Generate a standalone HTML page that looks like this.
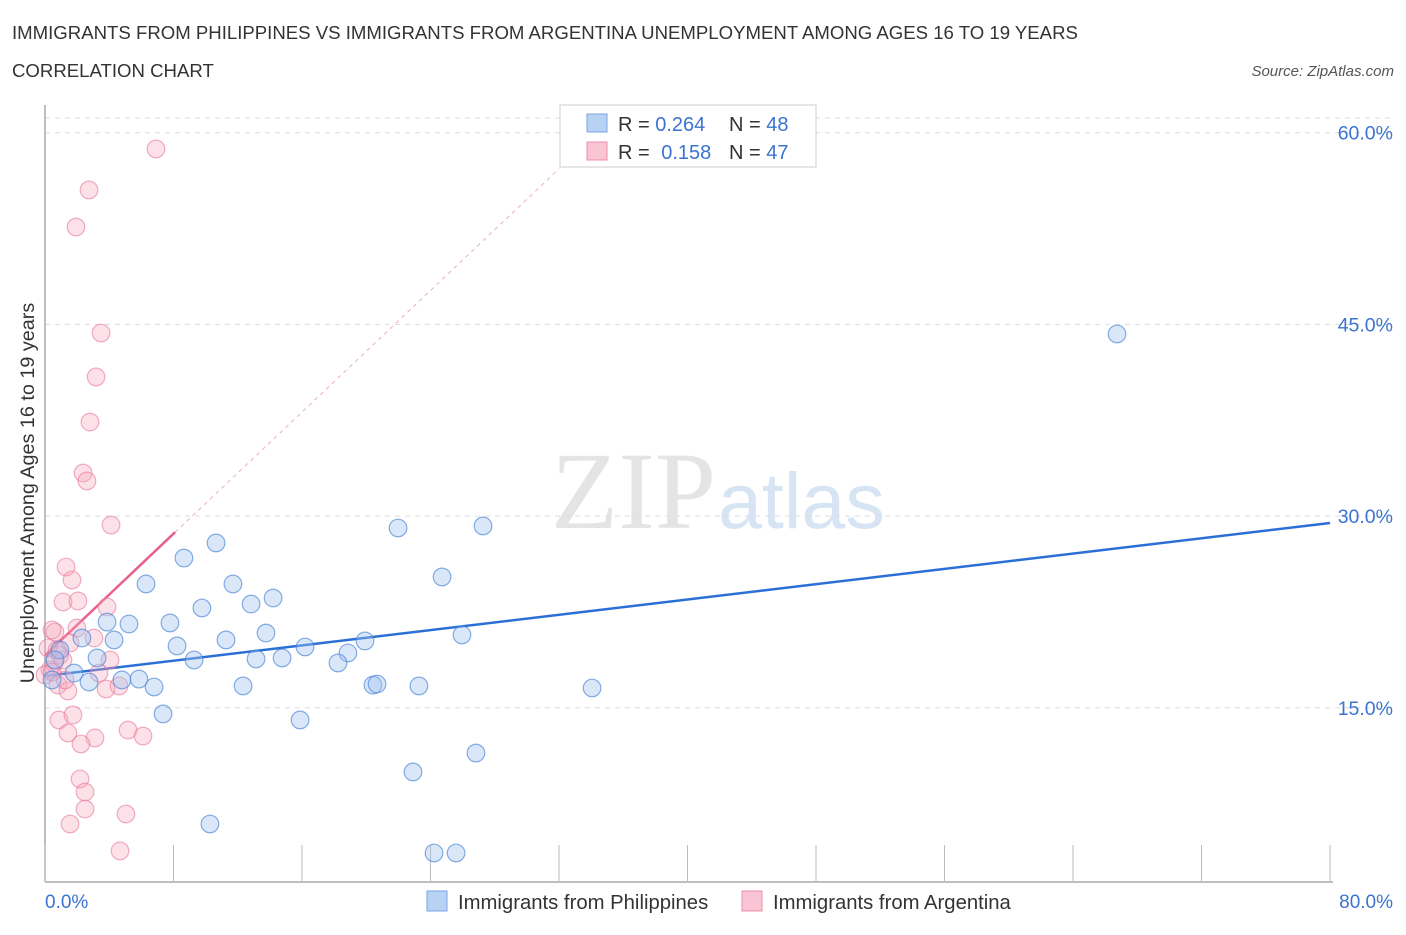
<!DOCTYPE html>
<html><head><meta charset="utf-8"><style>
body{margin:0;background:#fff;font-family:"Liberation Sans",sans-serif}
svg text{font-family:"Liberation Sans",sans-serif}
</style></head><body>
<svg id="chart" width="1406" height="930">
<text x="12" y="39" font-size="18.6" fill="#333">IMMIGRANTS FROM PHILIPPINES VS IMMIGRANTS FROM ARGENTINA UNEMPLOYMENT AMONG AGES 16 TO 19 YEARS</text>
<text x="12" y="77" font-size="18.6" fill="#333">CORRELATION CHART</text>
<text x="1394" y="76" font-size="15" fill="#555" font-style="italic" text-anchor="end">Source: ZipAtlas.com</text>
<text x="716" y="528" font-size="110" fill="#e4e4e4" text-anchor="end" style="font-family:'Liberation Serif',serif">ZIP</text>
<text x="718" y="528" font-size="79" fill="#d6e4f4">atlas</text>
<g id="grid"></g>
<g id="axes"></g>
<g id="lines"></g>
<g id="pts"></g>
<text transform="translate(34,493) rotate(-90)" font-size="19.8" fill="#333" text-anchor="middle">Unemployment Among Ages 16 to 19 years</text>
<g>
<rect x="560" y="105" width="256" height="62" fill="#fff" stroke="#ccc"/>
<rect x="587" y="114" width="20" height="18" fill="#b8d2f4" stroke="#7aa6e6"/>
<rect x="587" y="142" width="20" height="18" fill="#f9c4d3" stroke="#ec8eaa"/>
<text x="618" y="131" font-size="20" fill="#333">R = <tspan fill="#3a74d0">0.264</tspan></text>
<text x="729" y="131" font-size="20" fill="#333">N = <tspan fill="#3a74d0">48</tspan></text>
<text x="618" y="159" font-size="20" fill="#333">R = <tspan fill="#3a74d0" dx="6">0.158</tspan></text>
<text x="729" y="159" font-size="20" fill="#333">N = <tspan fill="#3a74d0">47</tspan></text>
</g>
<g>
<rect x="427" y="891" width="20" height="20" fill="#b8d2f4" stroke="#7aa6e6"/>
<text x="458" y="909" font-size="20.3" fill="#333">Immigrants from Philippines</text>
<rect x="742" y="891" width="20" height="20" fill="#f9c4d3" stroke="#ec8eaa"/>
<text x="773" y="909" font-size="20.3" fill="#333">Immigrants from Argentina</text>
</g>
</svg>
<script>
const yTicks=[15,30,45,60];
const yTickLabels=["15.0%","30.0%","45.0%","60.0%"];
const xTickLabels=["0.0%","80.0%"];
const blueX=[66.74,27.27,21.98,10.65,8.65,24.72,6.29,11.70,14.20,12.83,9.77,3.86,5.23,7.78,13.76,25.96,2.30,4.30,19.92,11.27,8.22,16.19,18.86,3.24,9.28,13.14,14.76,18.24,0.93,0.62,1.81,5.85,4.79,2.74,6.79,12.33,20.42,20.67,23.28,34.06,7.35,15.88,26.83,22.91,10.27,24.22,25.59,0.44];
const blueY=[44.25,29.23,29.07,27.90,26.72,25.24,24.69,24.69,23.59,23.12,22.81,21.71,21.56,21.64,20.85,20.70,20.46,20.31,20.23,20.31,19.84,19.76,19.29,18.90,18.74,18.82,18.90,18.51,19.52,18.74,17.72,17.25,17.18,17.02,16.63,16.71,16.78,16.86,16.71,16.55,14.52,14.05,11.46,9.98,5.91,3.64,3.64,17.18];
const pinkX=[6.91,2.74,1.93,3.49,3.18,2.80,2.37,2.61,4.11,1.31,1.68,1.12,2.05,3.86,1.99,0.62,0.44,3.05,1.56,0.93,0.19,0.56,0.31,4.05,3.36,0.81,1.43,3.80,4.61,1.12,1.25,0.87,1.74,1.43,3.11,2.24,5.17,6.10,2.18,2.49,2.49,1.56,5.04,4.67,0.75,0,0.44];
const pinkY=[58.73,55.52,52.62,44.33,40.89,37.36,33.37,32.75,29.30,26.02,25.00,23.28,23.36,22.89,21.24,20.93,21.09,20.46,20.07,19.13,19.68,18.51,17.96,18.74,17.72,16.78,16.32,16.47,16.71,18.74,17.18,14.05,14.44,13.03,12.64,12.17,13.26,12.79,9.43,8.41,7.08,5.91,6.69,3.80,19.52,17.57,17.80];
const blueTrend=[17.49,29.46];
const pinkTrend=[19.1,1.19];
const NS="http://www.w3.org/2000/svg";
const X0=45,X1=1330,Ybase=899.5,YS=191.7/15;
const sx=v=>X0+(X1-X0)*v/80, sy=v=>Ybase-v*YS;
function mk(tag,attrs,parent){const e=document.createElementNS(NS,tag);for(const k in attrs)e.setAttribute(k,attrs[k]);parent.appendChild(e);return e;}
const grid=document.getElementById('grid'),axes=document.getElementById('axes'),lines=document.getElementById('lines'),pts=document.getElementById('pts');
let gl=mk('line',{x1:X0,x2:X1+60,y1:118,y2:118,stroke:'#ddd','stroke-dasharray':'5,5'},grid);


yTicks.forEach((t,i)=>{
 const l=mk('line',{x1:X0,x2:X1+60,y1:sy(t),y2:sy(t),stroke:'#ddd','stroke-dasharray':'5,5'},grid);
 
 
 const tx=mk('text',{x:1393,y:sy(t)+7,'font-size':19.5,fill:'#3a74d0','text-anchor':'end'},axes);
 tx.textContent=yTickLabels[i];
 
 
});
const ya=mk('line',{x1:X0,x2:X0,y1:105,y2:882,stroke:'#aaa','stroke-width':1.5},axes);


const xa=mk('line',{x1:X0,x2:X1+3,y1:882,y2:882,stroke:'#aaa','stroke-width':1.5},axes);


for(let i=0;i<=10;i++){const t=mk('line',{x1:sx(i*8),x2:sx(i*8),y1:845,y2:882,stroke:'#bbb'},axes);
 
 }
[[0,'start',45],[1,'end',1393]].forEach(([i,a,x])=>{const t=mk('text',{x:x,y:908,'font-size':19,fill:'#3a74d0','text-anchor':a},axes);t.textContent=xTickLabels[i];
 
 });
const bl=mk('line',{x1:sx(0),y1:sy(blueTrend[0]),x2:sx(80),y2:sy(blueTrend[1]),stroke:'#2a6fd6','stroke-width':2.5},lines);


const pd=mk('line',{x1:sx(8.1),y1:sy(pinkTrend[0]+pinkTrend[1]*8.1),x2:sx(32),y2:sy(pinkTrend[0]+pinkTrend[1]*32),stroke:'#eab0c0','stroke-width':1,'stroke-dasharray':'4,4'},lines);


const ps=mk('line',{x1:sx(0),y1:sy(pinkTrend[0]),x2:sx(8.1),y2:sy(pinkTrend[0]+pinkTrend[1]*8.1),stroke:'#e8608a','stroke-width':2.5},lines);


pinkX.forEach((v,i)=>{const c=mk('circle',{cx:sx(v),cy:sy(pinkY[i]),r:8.8,fill:'rgba(246,170,192,0.35)',stroke:'rgba(232,120,155,0.6)','stroke-width':1.2},pts);
 
 });
blueX.forEach((v,i)=>{const c=mk('circle',{cx:sx(v),cy:sy(blueY[i]),r:8.8,fill:'rgba(160,196,240,0.4)',stroke:'rgba(70,130,215,0.65)','stroke-width':1.2},pts);
 
 });
</script>
</body></html>
